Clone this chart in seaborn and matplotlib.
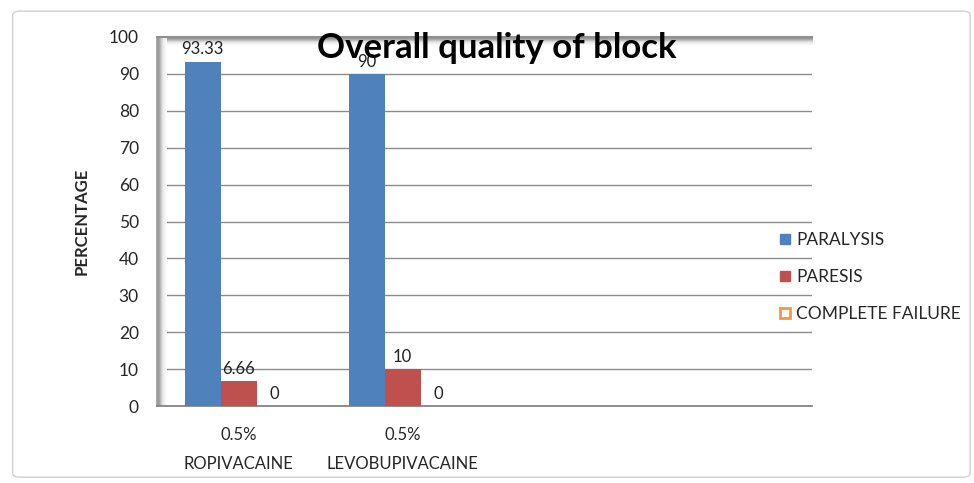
import matplotlib
matplotlib.use("Agg")
import matplotlib.pyplot as plt
import seaborn as sns
import pandas as pd
import numpy as np
from matplotlib.lines import Line2D
from matplotlib.patches import FancyBboxPatch
from matplotlib.colors import LinearSegmentedColormap

categories = ["0.5%\nROPIVACAINE", "0.5%\nLEVOBUPIVACAINE"]
series = ["PARALYSIS", "PARESIS", "COMPLETE FAILURE"]
paralysis = [93.33, 90]
paresis = [6.66, 10]
complete_failure = [0, 0]
label_texts = [["93.33", "90"], ["6.66", "10"], ["0", "0"]]
yticks = list(range(0, 101, 10))

colors = ["#4F81BD", "#C0504D", "#F79646"]

sns.set_theme(style="white")
plt.rcParams["font.family"] = ["Lato", "DejaVu Sans"]

rows = []
for s, vals in zip(series, [paralysis, paresis, complete_failure]):
    for c, v in zip(categories, vals):
        rows.append({"cat": c, "series": s, "value": v})
df = pd.DataFrame(rows)

fig = plt.figure(figsize=(9.74, 4.83), dpi=100)
fig.patches.append(FancyBboxPatch((0.013, 0.012), 0.983, 0.965, boxstyle="round,pad=0,rounding_size=0.008",
                                  transform=fig.transFigure, fill=False, edgecolor="#D0D0D0", linewidth=1))
ax = fig.add_axes([0.161, 0.1594, 0.673, 0.764])

sns.barplot(data=df, x="cat", y="value", hue="series", order=categories, hue_order=series,
            palette=colors, width=0.66, ax=ax, legend=False, saturation=1, errorbar=None)
for p in ax.patches:
    p.set_zorder(3)
    p.set_edgecolor("none")

for cont, labs in zip(ax.containers, label_texts):
    ax.bar_label(cont, labels=labs, padding=3, fontsize=12, color="#222222", zorder=4)

# 3D wall shadows (left wall and top edge)
shade = LinearSegmentedColormap.from_list("shade", ["#FFFFFF", "#E6E6E6", "#A8A8A8", "#8A8A8A"])
grad_h = np.linspace(1, 0, 64)[None, :] ** 1.3
ax.imshow(grad_h, extent=(-0.5, -0.44, 0, 100), aspect="auto", cmap=shade, vmin=0, vmax=1,
          zorder=2, interpolation="bilinear")
grad_v = np.linspace(0, 1, 64)[:, None] ** 1.3
ax.imshow(grad_v, extent=(-0.44, 3.5, 97.6, 100), aspect="auto", cmap=shade, vmin=0, vmax=1,
          zorder=2, origin="lower", interpolation="bilinear")

ax.set_xlim(-0.5, 3.5)
ax.set_ylim(0, 100)
ax.set_yticks(yticks)
ax.set_yticklabels([str(t) for t in yticks], fontsize=12.5)
ax.yaxis.grid(True, color="#8C8C8C", linewidth=1)
ax.set_axisbelow(True)
ax.set_xticks([0, 1])
ax.set_xticklabels(categories, fontsize=12, linespacing=2.0)
ax.set_xticks([-0.5, 0.5, 1.5, 2.5, 3.5], minor=True)
ax.tick_params(axis="x", which="major", length=0, pad=15)
ax.tick_params(axis="x", which="minor", length=6, direction="out", color="#808080", width=1)
ax.tick_params(axis="y", length=5, direction="out", color="#808080", width=1, pad=8)
ax.set_xlabel("")
ax.set_ylabel("PERCENTAGE", fontsize=12, fontweight="bold", labelpad=14)

ax.spines["right"].set_visible(False)
ax.spines["bottom"].set_color("#808080")
ax.spines["left"].set_color("#A0A0A0")
ax.spines["top"].set_color("#909090")
ax.spines["top"].set_linewidth(1.5)

fig.text(0.510, 0.900, "Overall quality of block", ha="center", va="center", fontsize=25,
         fontweight="bold", color="black")

handles = [
    Line2D([], [], marker="s", linestyle="", markersize=7, markerfacecolor=colors[0], markeredgecolor=colors[0]),
    Line2D([], [], marker="s", linestyle="", markersize=7, markerfacecolor=colors[1], markeredgecolor=colors[1]),
    Line2D([], [], marker="s", linestyle="", markersize=7, markerfacecolor="white", markeredgecolor=colors[2], markeredgewidth=2),
]
fig.legend(handles, series, loc="center left", bbox_to_anchor=(0.781, 0.426), frameon=False,
           fontsize=12.5, handletextpad=0.15, labelspacing=1.2, handlelength=1.0)

fig.savefig("out.png", dpi=100)
